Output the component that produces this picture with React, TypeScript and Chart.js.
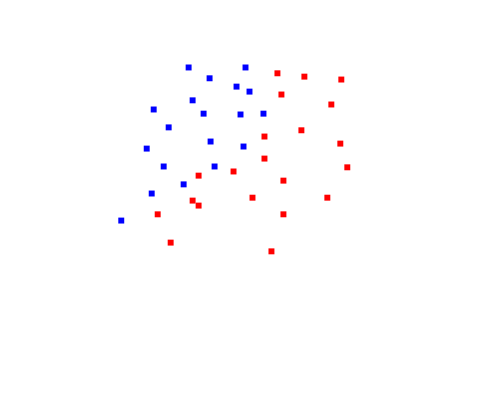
import React, { useEffect, useRef } from "react";
import { Chart, registerables } from "chart.js";

Chart.register(...registerables);

const blueX = [37.7, 49.1, 41.9, 47.3, 49.9, 38.5, 30.7, 40.7, 48.1, 52.7, 33.7, 42.1, 29.3, 48.7, 32.7, 42.9, 36.7, 30.3, 24.2];
const blueY = [83.9, 83.9, 81.3, 79.3, 78.1, 76.0, 73.8, 72.8, 72.6, 72.8, 69.5, 66.1, 64.4, 64.9, 60.1, 60.1, 55.8, 53.6, 47.1];

const redX = [55.5, 60.9, 68.3, 56.3, 66.3, 60.3, 52.9, 68.1, 52.9, 69.5, 46.7, 56.7, 50.5, 65.5, 56.7, 54.3, 39.7, 38.5, 39.7, 31.5, 34.1];
const redY = [82.5, 81.7, 81.0, 77.4, 75.0, 68.8, 67.3, 65.6, 62.0, 59.9, 58.9, 56.7, 52.6, 52.6, 48.6, 39.7, 57.9, 51.9, 50.7, 48.6, 41.8];

const toPoints = (xs: number[], ys: number[]) => xs.map((x, i) => ({ x, y: ys[i] }));

export default function App() {
  const ref = useRef<HTMLCanvasElement | null>(null);
  useEffect(() => {
    if (!ref.current) return;
    const chart = new Chart(ref.current, {
      type: "scatter",
      data: {
        datasets: [
          {
            label: "Blue",
            data: toPoints(blueX, blueY),
            backgroundColor: "#0000ff",
            borderWidth: 0,
            pointStyle: "rect",
            pointRadius: 4.2,
          },
          {
            label: "Red",
            data: toPoints(redX, redY),
            backgroundColor: "#ff0000",
            borderWidth: 0,
            pointStyle: "rect",
            pointRadius: 4.2,
          },
        ],
      },
      options: {
        animation: false,
        responsive: true,
        maintainAspectRatio: false,
        layout: { padding: 0, autoPadding: false },
        plugins: { legend: { display: false }, tooltip: { enabled: false } },
        scales: {
          x: { type: "linear", min: -0.1, max: 99.9, display: false },
          y: { type: "linear", min: 0.12, max: 100.12, display: false },
        },
      },
    });
    return () => chart.destroy();
  }, []);
  return (
    <div style={{ position: "absolute", left: 0, top: 0, width: 499, height: 416, background: "#fff" }}>
      <canvas ref={ref} />
    </div>
  );
}
